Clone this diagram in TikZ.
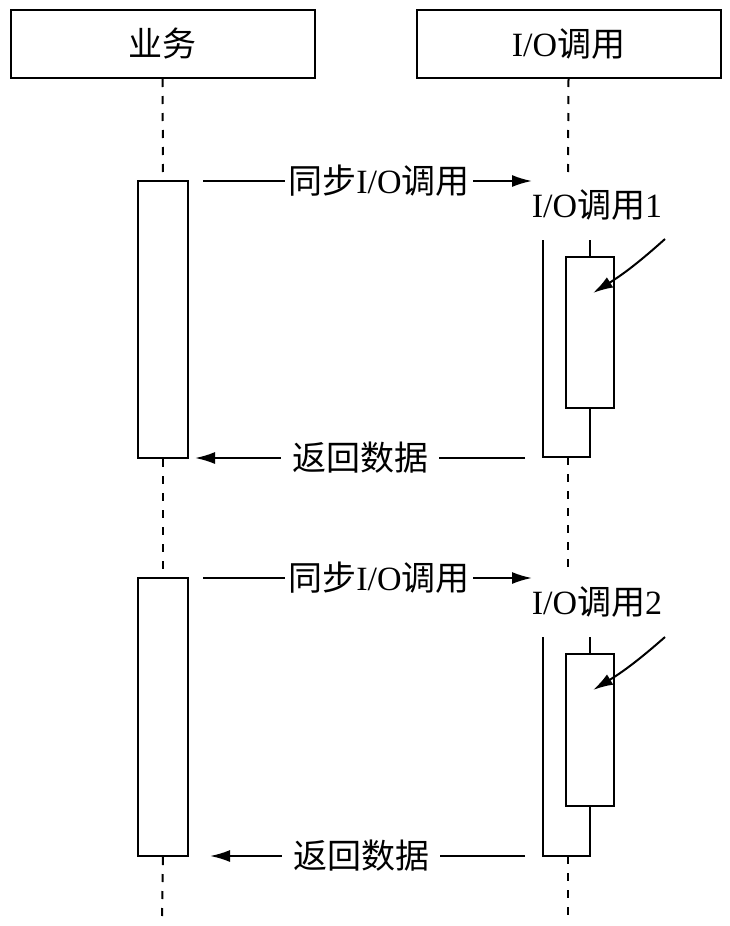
\documentclass[tikz,border=0pt]{standalone}
\usepackage{fontspec}
\setmainfont{Liberation Serif}
\newfontfamily\cjk{Noto Sans CJK SC}
\usetikzlibrary{arrows.meta}
\tikzset{
  lw/.style={line width=2pt},
  hdr/.style={draw, lw, rectangle, minimum width=304pt, minimum height=68pt, inner sep=0pt,
    font=\fontsize{34}{40}\selectfont},
  actbox/.style={draw, lw, fill=white, rectangle, inner sep=0pt, minimum width=50pt},
  callbox/.style={draw, lw, fill=white, rectangle, inner sep=0pt, minimum width=48pt},
  life/.style={lw, dash pattern=on 8pt off 9pt},
  msg/.style={lw, -{Latex[length=20pt,width=12pt]}},
  lbl/.style={fill=white, inner ysep=1pt, font=\fontsize{34}{40}\selectfont},
  calllbl/.style={inner sep=0pt, font=\fontsize{34}{40}\selectfont},
}
\begin{document}
\begin{tikzpicture}[x=1pt,y=-1pt]
\useasboundingbox (0,0) rectangle (730,926);

% headers
\node[hdr] (biz) at (162.5,44) {{\cjk 业务}};
\node[hdr] (io) at (568.5,44) {I/O{\cjk 调用}};

% end coordinates of lifelines
\coordinate (bizend) at (162,918);
\coordinate (ioend) at (568,918);

% business activations
\node[actbox, minimum height=277pt] (a1) at (163,319.5) {};
\node[actbox, minimum height=278pt] (a2) at (163,717) {};

% lifeline business
\draw[life] (biz.south) -- (a1.north);
\draw[life] (a1.south) -- (a2.north);
\draw[life] (a2.south) -- (bizend);

% I/O call labels
\node[calllbl] (cl1) at (597,205) {I/O{\cjk 调用}1};
\node[calllbl] (cl2) at (597,602) {I/O{\cjk 调用}2};

% U frames and inner call boxes, cycle 1
\coordinate (u1tl) at (543,240);
\coordinate (u1tr) at (590,240);
\coordinate (u1bl) at (543,457);
\coordinate (u1br) at (590,457);
\fill[white] (u1tl) rectangle (u1br);
\node[callbox, minimum height=151pt] (c1) at (590,332.5) {};
\draw[lw] (u1tl) -- (u1bl) -- (u1br) -- (c1.south);
\draw[lw] (u1tr) -- (c1.north);

% cycle 2
\coordinate (u2tl) at (543,637);
\coordinate (u2tr) at (590,637);
\coordinate (u2bl) at (543,856);
\coordinate (u2br) at (590,856);
\fill[white] (u2tl) rectangle (u2br);
\node[callbox, minimum height=152pt] (c2) at (590,730) {};
\draw[lw] (u2tl) -- (u2bl) -- (u2br) -- (c2.south);
\draw[lw] (u2tr) -- (c2.north);

% lifeline I/O
\coordinate (l1a) at (568,175);
\coordinate (l2s) at (568,457);
\coordinate (l2a) at (568,575);
\coordinate (l3s) at (568,856);
\draw[life] (io.south) -- (l1a);
\draw[life] (l2s) -- (l2a);
\draw[life] (l3s) -- (ioend);

% messages cycle 1
\coordinate (s1) at (203,181);
\coordinate (t1) at (532,181);
\draw[msg] (s1) -- node[lbl, pos=0.535, inner xsep=3pt] {{\cjk 同步}I/O{\cjk 调用}} (t1);
\coordinate (r1s) at (525,458);
\coordinate (r1t) at (195,458);
\draw[msg] (r1s) -- node[lbl, pos=0.5, inner xsep=11pt] {{\cjk 返回数据}} (r1t);

% messages cycle 2
\coordinate (s2) at (203,578);
\coordinate (t2) at (532,578);
\draw[msg] (s2) -- node[lbl, pos=0.535, inner xsep=3pt] {{\cjk 同步}I/O{\cjk 调用}} (t2);
\coordinate (r2s) at (525,856);
\coordinate (r2t) at (210,856);
\draw[msg] (r2s) -- node[lbl, pos=0.52, inner xsep=11pt] {{\cjk 返回数据}} (r2t);

% pointer arrows
\coordinate (p1s) at (665,239);
\coordinate (p1t) at (593,293);
\coordinate (p2s) at (665,637);
\coordinate (p2t) at (593,690);
\draw[msg] (p1s) to[bend left=5] (p1t);
\draw[msg] (p2s) to[bend left=5] (p2t);
\end{tikzpicture}
\end{document}
